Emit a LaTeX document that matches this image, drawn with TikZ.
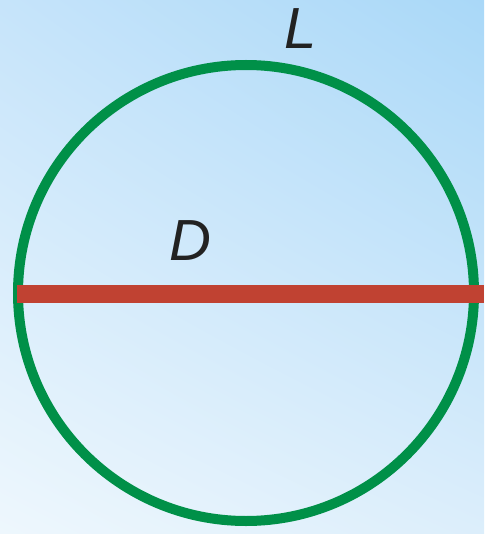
\documentclass[tikz,border=0pt]{standalone}
\usepackage{fontspec}
\setsansfont{Liberation Sans}
\usetikzlibrary{shadings}
\definecolor{ringgreen}{HTML}{009048}
\definecolor{diamred}{HTML}{C04232}
\definecolor{bgUL}{HTML}{C6E4FA}
\definecolor{bgUR}{HTML}{A9D8F8}
\definecolor{bgLL}{HTML}{EEF7FD}
\definecolor{bgLR}{HTML}{DCEEFB}
\definecolor{labelgray}{HTML}{222222}
\begin{document}
\begin{tikzpicture}[x=1pt,y=-1pt,
  lbl/.style={font=\sffamily\itshape\fontsize{58}{58}\selectfont, text=labelgray, inner sep=0pt},
  ring/.style={draw=ringgreen, line width=10pt},
  diam/.style={draw=diamred, line width=18pt}]
\useasboundingbox (0,0) rectangle (484,534);
\shade[upper left=bgUL, upper right=bgUR, lower left=bgLL, lower right=bgLR] (0,0) rectangle (484,534);
\coordinate (c) at (246,293);
\draw[ring] (c) circle[radius=228];
\coordinate (dl) at (17,294);
\coordinate (dr) at (484,294);
\draw[diam] (dl) -- (dr);
\node[lbl] (L) at (301,29) {L};
\node[lbl] (D) at (190,241) {D};
\end{tikzpicture}
\end{document}
